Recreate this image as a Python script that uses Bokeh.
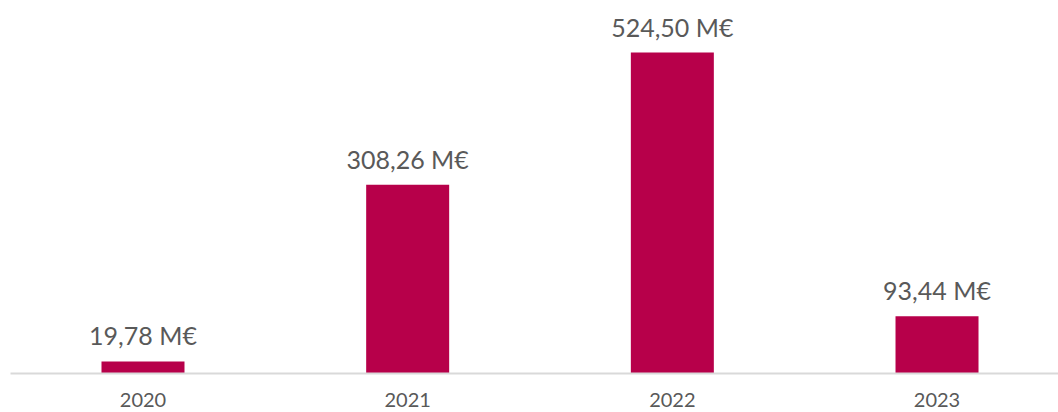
from bokeh.plotting import figure
from bokeh.models import ColumnDataSource, FixedTicker, Range1d
from bokeh.core.properties import value
from bokeh.embed import file_html
from bokeh.resources import INLINE

years = ["2020", "2021", "2022", "2023"]
values = [19.78, 308.26, 524.50, 93.44]
labels = ["19,78 M€", "308,26 M€", "524,50 M€", "93,44 M€"]

xs = list(range(len(years)))
src = ColumnDataSource(dict(x=xs, top=values, label=labels))

p = figure(frame_width=1048, frame_height=373, output_backend="svg", toolbar_location=None,
           x_range=Range1d(-0.5006, 3.459), y_range=Range1d(0, 609.5),
           min_border_left=10, min_border_right=0, min_border_top=0, min_border_bottom=0)

p.vbar(x="x", top="top", width=83/264.67, bottom=0, source=src,
       fill_color="#B7004A", line_color=None)

p.text(x="x", y="top", text="label", source=src, text_align="center",
       text_baseline="alphabetic", y_offset=-26,
       text_font=value("Lato"), text_font_size="25px", text_color="#595959")

p.yaxis.visible = False
p.xgrid.visible = False
p.ygrid.visible = False
p.outline_line_color = None

ax = p.xaxis[0]
ax.ticker = FixedTicker(ticks=xs)
ax.major_label_overrides = {i: y for i, y in enumerate(years)}
ax.axis_line_color = "#d9d9d9"
ax.axis_line_width = 2
ax.major_tick_line_color = None
ax.minor_tick_line_color = None
ax.major_label_text_font = "Lato"
ax.major_label_text_font_size = "20px"
ax.major_label_text_color = "#595959"
ax.major_label_standoff = 13

open("out.html", "w").write(file_html(p, INLINE))
